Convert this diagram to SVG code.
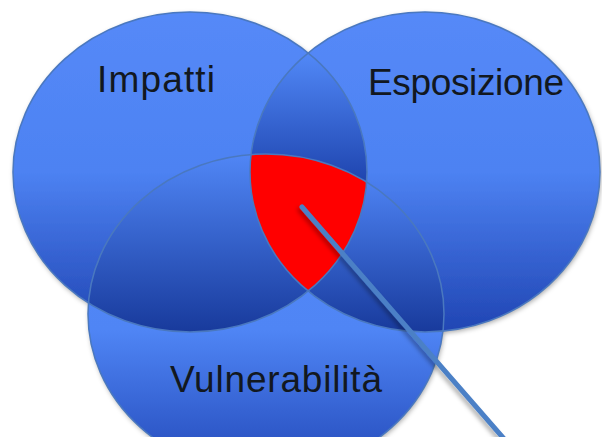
<svg xmlns="http://www.w3.org/2000/svg" width="602" height="437" viewBox="0 0 602 437">
  <style>
    .outline { fill: none; stroke: #4a78bf; stroke-width: 1.5; }
    .label { font-family: "Liberation Sans", Arial, sans-serif; font-size: 37px; fill: #121820; }
  </style>
  <defs>
    <linearGradient id="gA" gradientUnits="userSpaceOnUse" x1="0" y1="12" x2="0" y2="332">
      <stop offset="0" stop-color="#5589f8"/>
      <stop offset="0.5" stop-color="#4d82f2"/>
      <stop offset="1" stop-color="#2045b3"/>
    </linearGradient>
    <linearGradient id="gB" gradientUnits="userSpaceOnUse" x1="0" y1="12" x2="0" y2="332">
      <stop offset="0" stop-color="#5589f8"/>
      <stop offset="0.5" stop-color="#4d82f2"/>
      <stop offset="1" stop-color="#2045b3"/>
    </linearGradient>
    <linearGradient id="gC" gradientUnits="userSpaceOnUse" x1="0" y1="154" x2="0" y2="474">
      <stop offset="0" stop-color="#5589f8"/>
      <stop offset="0.55" stop-color="#4f85f5"/>
      <stop offset="1" stop-color="#2248b8"/>
    </linearGradient>
    <linearGradient id="gAB" gradientUnits="userSpaceOnUse" x1="0" y1="52" x2="0" y2="185">
      <stop offset="0" stop-color="#5289f8"/>
      <stop offset="1" stop-color="#1d43ad"/>
    </linearGradient>
    <linearGradient id="gAC" gradientUnits="userSpaceOnUse" x1="0" y1="155" x2="0" y2="332">
      <stop offset="0" stop-color="#5086f5"/>
      <stop offset="1" stop-color="#183a9c"/>
    </linearGradient>
    <linearGradient id="gBC" gradientUnits="userSpaceOnUse" x1="0" y1="180" x2="0" y2="332">
      <stop offset="0" stop-color="#4d82f2"/>
      <stop offset="1" stop-color="#183a9c"/>
    </linearGradient>
    <clipPath id="clipA"><ellipse cx="190" cy="172" rx="177" ry="160"/></clipPath>
    <clipPath id="clipB"><ellipse cx="425" cy="172" rx="175" ry="160"/></clipPath>
    <filter id="shadow" x="-10%" y="-10%" width="120%" height="120%">
      <feDropShadow dx="1" dy="2" stdDeviation="2.5" flood-color="#000" flood-opacity="0.35"/>
    </filter>
    <filter id="lineShadow" x="-20%" y="-20%" width="140%" height="140%">
      <feDropShadow dx="-2" dy="3" stdDeviation="2" flood-color="#000" flood-opacity="0.3"/>
    </filter>
  </defs>

  <rect x="0" y="0" width="602" height="437" fill="#ffffff"/>

  <!-- filled regions -->
  <g id="venn-fills">
    <g filter="url(#shadow)">
      <ellipse cx="190" cy="172" rx="177" ry="160" fill="url(#gA)"/>
      <ellipse cx="425" cy="172" rx="175" ry="160" fill="url(#gB)"/>
      <ellipse cx="266" cy="314" rx="178" ry="160" fill="url(#gC)"/>
    </g>
    <g id="overlap-AB" clip-path="url(#clipA)">
      <ellipse cx="425" cy="172" rx="175" ry="160" fill="url(#gAB)"/>
    </g>
    <ellipse cx="266" cy="314" rx="178" ry="160" fill="url(#gC)"/>
    <g id="overlap-AC" clip-path="url(#clipA)">
      <ellipse cx="266" cy="314" rx="178" ry="160" fill="url(#gAC)"/>
    </g>
    <g id="overlap-BC" clip-path="url(#clipB)">
      <ellipse cx="266" cy="314" rx="178" ry="160" fill="url(#gBC)"/>
    </g>
    <g id="overlap-ABC" clip-path="url(#clipA)">
      <g clip-path="url(#clipB)">
        <ellipse cx="266" cy="314" rx="178" ry="160" fill="#ff0000"/>
      </g>
    </g>
  </g>

  <g id="impatti">
    <ellipse class="outline" cx="190" cy="172" rx="177" ry="160"/>
    <text class="label" x="97" y="92" textLength="118">Impatti</text>
  </g>
  <g id="esposizione">
    <ellipse class="outline" cx="425" cy="172" rx="175" ry="160"/>
    <text class="label" x="368" y="95" textLength="196">Esposizione</text>
  </g>
  <g id="vulnerabilita">
    <ellipse class="outline" cx="266" cy="314" rx="178" ry="160"/>
    <text class="label" x="170" y="392" textLength="212">Vulnerabilità</text>
  </g>

  <g id="connectors">
    <line x1="302" y1="207" x2="505" y2="440" stroke="#4c80c6" stroke-width="5" stroke-linecap="round" filter="url(#lineShadow)"/>
  </g>
</svg>
